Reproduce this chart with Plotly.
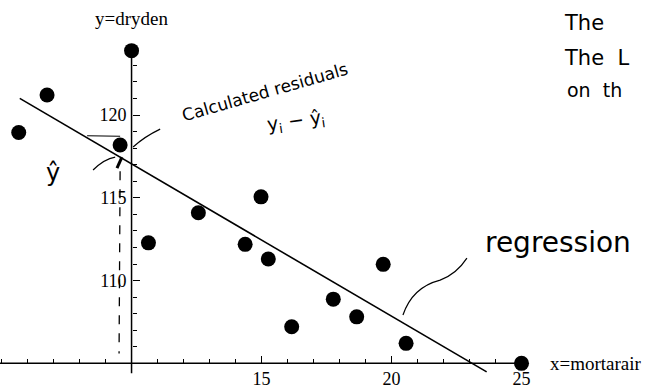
import plotly.graph_objects as go

# data
mortarair = [5.66, 6.75, 10.0, 9.56, 10.65, 12.57, 14.37, 14.98, 15.26, 16.16, 17.76, 18.66, 19.68, 20.56, 25.0]
dryden    = [118.95, 121.21, 123.89, 118.19, 112.28, 114.10, 112.19, 115.06, 111.30, 107.21, 108.88, 107.81, 110.98, 106.21, 105.0]
# regression line coefficients (y = a + b x)
reg_intercept = 126.25
reg_slope = -0.920
reg_x = [5.70, 23.66]
x_ticks = [15, 20, 25]
y_ticks = [110, 115, 120]
x_minor = [v for v in range(5, 25) if v not in x_ticks]
y_minor = [v for v in range(106, 124) if v not in y_ticks]

XR = [4.94, 29.75]
YR = [103.27, 126.95]
FONT = "Liberation Serif"

fig = go.Figure()
fig.add_trace(go.Scatter(
    x=reg_x, y=[reg_intercept + reg_slope * v for v in reg_x], mode="lines",
    line=dict(color="black", width=1.6), hoverinfo="skip"))
fig.add_trace(go.Scatter(
    x=mortarair, y=dryden, mode="markers",
    marker=dict(color="black", size=15, line=dict(width=0)), cliponaxis=False))

# axis lines
fig.add_shape(type="line", x0=XR[0], x1=25.0, y0=105, y1=105, line=dict(color="black", width=1.5))
fig.add_shape(type="line", x0=10, x1=10, y0=104.4, y1=123.8, line=dict(color="black", width=1.5))

# handwritten marks
hw = dict(color="black", width=1.2)
fig.add_shape(type="line", x0=9.56, x1=9.52, y0=116.6, y1=105.6, line=dict(color="black", width=1.3, dash="dash"))
fig.add_shape(type="line", x0=8.29, x1=9.56, y0=118.75, y1=118.72, line=hw)
fig.add_shape(type="path", path="M 11.10,119.15 Q 10.5,118.7 10.06,118.07", line=hw)
fig.add_shape(type="path", path="M 8.52,116.68 Q 8.95,117.35 9.37,117.46", line=hw)
fig.add_shape(type="line", x0=9.44, x1=9.63, y0=116.80, y1=117.46, line=dict(color="black", width=3))
fig.add_shape(type="path", path="M 20.44,107.92 Q 20.8,109.6 21.87,110.03 Q 22.5,110.4 22.9,111.36", line=hw)

fig.add_annotation(x=15.13, y=121.39, text="Calculated residuals", showarrow=False,
                   textangle=-16, font=dict(family="DejaVu Sans", size=17, color="black"))
fig.add_annotation(x=16.33, y=119.64, text="y<sub>i</sub> − ŷ<sub>i</sub>", showarrow=False,
                   textangle=-8, font=dict(family="DejaVu Sans", size=19, color="black"))
fig.add_annotation(x=6.98, y=116.5, text="ŷ", showarrow=False,
                   font=dict(family="DejaVu Sans", size=24, color="black"))
fig.add_annotation(x=23.52, y=112.33, text="regression", showarrow=False, xanchor="left",
                   font=dict(family="DejaVu Sans", size=28, color="black"))
fig.add_annotation(xref="paper", yref="paper", x=562 / 645, y=1 - 23 / 392, text="The", showarrow=False,
                   xanchor="left", yanchor="middle", font=dict(family="DejaVu Sans", size=21, color="black"))
fig.add_annotation(xref="paper", yref="paper", x=562 / 645, y=1 - 58 / 392, text="The  L", showarrow=False,
                   xanchor="left", yanchor="middle", font=dict(family="DejaVu Sans", size=21, color="black"))
fig.add_annotation(xref="paper", yref="paper", x=565 / 645, y=1 - 90 / 392, text="on  th", showarrow=False,
                   xanchor="left", yanchor="middle", font=dict(family="DejaVu Sans", size=19, color="black"))

# axis titles
fig.add_annotation(x=10, y=1 - 18 / 392, xref="x", yref="paper", text="y=dryden", showarrow=False,
                   xanchor="center", yanchor="middle", font=dict(family=FONT, size=19, color="black"))
fig.add_annotation(x=26.0, y=105, text="x=mortarair", showarrow=False, xanchor="left", yanchor="middle",
                   font=dict(family=FONT, size=19, color="black"))

fig.update_layout(
    width=645, height=392, margin=dict(l=0, r=0, t=0, b=0, autoexpand=False),
    paper_bgcolor="white", plot_bgcolor="white", showlegend=False,
    xaxis=dict(range=XR, showgrid=False, zeroline=False, showline=False, automargin=False,
               anchor="free", position=(105 - YR[0]) / (YR[1] - YR[0]),
               tickmode="array", tickvals=x_ticks, ticks="inside", ticklen=7, tickwidth=1.2,
               tickcolor="black", ticklabelstandoff=3,
               tickfont=dict(family=FONT, size=18, color="black"),
               minor=dict(tickmode="array", tickvals=x_minor, ticks="inside", ticklen=4,
                          tickcolor="black", showgrid=False)),
    yaxis=dict(range=YR, showgrid=False, zeroline=False, showline=False, automargin=False,
               anchor="free", position=(10 - XR[0]) / (XR[1] - XR[0]),
               tickmode="array", tickvals=y_ticks, ticks="inside", ticklen=7, tickwidth=1.2,
               tickcolor="black", ticklabelstandoff=5,
               tickfont=dict(family=FONT, size=18, color="black"),
               minor=dict(tickmode="array", tickvals=y_minor, ticks="inside", ticklen=4,
                          tickcolor="black", showgrid=False)),
)
fig.write_html("out.html", config={"displayModeBar": False},
               post_script="document.body.style.margin='0';")
